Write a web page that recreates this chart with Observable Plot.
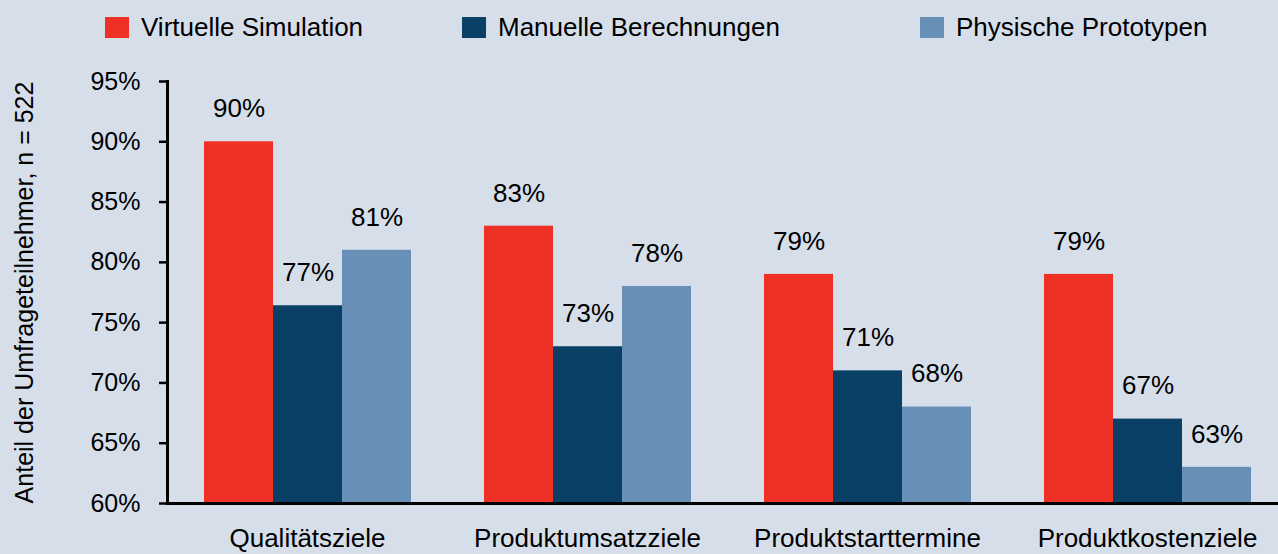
<!DOCTYPE html>
<html><head><meta charset="utf-8">
<script src="https://cdn.jsdelivr.net/npm/d3@7"></script>
<script src="https://cdn.jsdelivr.net/npm/@observablehq/plot@0.6"></script>
<style>
html,body{margin:0;padding:0;background:#d6deea;overflow:hidden;width:1278px;height:554px;font-family:"Liberation Sans",Arial,sans-serif;}
#legend{position:relative;height:60px;}
.item{position:absolute;top:0;height:54px;display:flex;align-items:center;font-size:26px;color:#000;white-space:nowrap;}
.sw{width:24px;height:21px;margin-right:12px;}
#chart svg{overflow:visible;display:block;}
</style></head><body>
<div id="legend"></div><div id="chart"></div>
<script>
const categories = ["Qualitätsziele", "Produktumsatzziele", "Produktstarttermine", "Produktkostenziele"];
const series = ["Virtuelle Simulation", "Manuelle Berechnungen", "Physische Prototypen"];
const colors = ["#ee3124", "#0b4066", "#688fb6"];
const virtuell = [90, 83, 79, 79];
const manuell = [76.4, 73, 71, 67];
const physisch = [81, 78, 68, 63];
const virtuellLabels = ["90%", "83%", "79%", "79%"];
const manuellLabels = ["77%", "73%", "71%", "67%"];
const physischLabels = ["81%", "78%", "68%", "63%"];
const yTicks = [60, 65, 70, 75, 80, 85, 90, 95];
const yLabel = "Anteil der Umfrageteilnehmer, n = 522";
const legendLeft = [105, 462, 920];

const valueSets = [virtuell, manuell, physisch];
const labelSets = [virtuellLabels, manuellLabels, physischLabels];
const rows = [];
categories.forEach((c, i) => series.forEach((s, j) => rows.push({category: c, series: s, value: valueSets[j][i], label: labelSets[j][i]})));

const legend = document.getElementById("legend");
series.forEach((s, j) => {
  const it = document.createElement("div");
  it.className = "item";
  it.style.left = legendLeft[j] + "px";
  const sw = document.createElement("span");
  sw.className = "sw";
  sw.style.background = colors[j];
  it.appendChild(sw);
  it.appendChild(document.createTextNode(s));
  legend.appendChild(it);
});

const chart = Plot.plot({
  width: 1278, height: 494,
  marginTop: 21, marginBottom: 51, marginLeft: 165, marginRight: -10,
  style: {background: "transparent", fontFamily: "Liberation Sans, Arial, sans-serif", fontSize: "25px", color: "#000", overflow: "visible"},
  fx: {domain: categories, padding: 0, label: null},
  x: {domain: series, paddingInner: 0, paddingOuter: 0.507, axis: null},
  y: {domain: [yTicks[0], yTicks[yTicks.length - 1]], label: yLabel},
  color: {domain: series, range: colors},
  marks: [
    Plot.barY(rows, {fx: "category", x: "series", y1: yTicks[0], y2: "value", fill: "series"}),
    Plot.text(rows, {fx: "category", x: "series", y: "value", text: "label", dy: -33, fontSize: 26, fill: "#000"}),
    Plot.ruleY([yTicks[0]], {stroke: "#000", strokeWidth: 3}),
    Plot.frame({anchor: "left", facetAnchor: "left", stroke: "#000", strokeWidth: 3}),
    Plot.axisY({ticks: yTicks, tickFormat: d => d + "%", tickSize: 8, tickPadding: 19, strokeWidth: 2.5, label: yLabel, labelAnchor: "center", labelOffset: 152, labelArrow: "none", fontSize: 25}),
    Plot.axisFx({anchor: "bottom", tickSize: 0, tickPadding: 25, fontSize: 26, label: null})
  ]
});
document.getElementById("chart").appendChild(chart);
</script>
</body></html>
